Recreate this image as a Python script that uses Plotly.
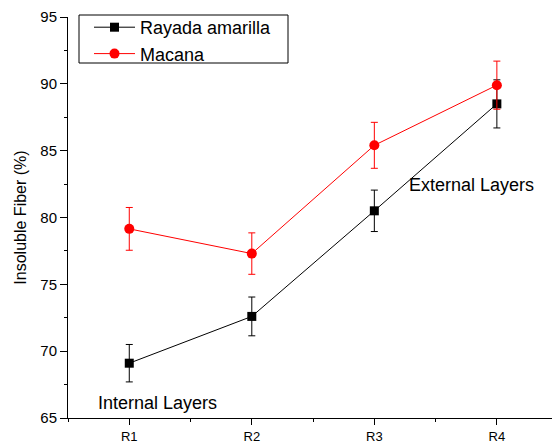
import plotly.graph_objects as go

categories = ["R1", "R2", "R3", "R4"]
x_pos = [1, 2, 3, 4]
rayada = [69.1, 72.6, 80.5, 88.5]
rayada_err = [1.4, 1.45, 1.55, 1.8]
macana = [79.15, 77.3, 85.4, 89.9]
macana_err = [1.6, 1.55, 1.72, 1.8]

FONT = "Arial, Liberation Sans, sans-serif"

fig = go.Figure()
fig.add_trace(go.Scatter(
    x=x_pos, y=rayada, name="Rayada amarilla", mode="lines+markers",
    line=dict(color="black", width=1),
    marker=dict(symbol="square", size=9, color="black"),
    error_y=dict(type="data", array=rayada_err, visible=True, color="black", thickness=1, width=3.5),
    cliponaxis=False,
))
fig.add_trace(go.Scatter(
    x=x_pos, y=macana, name="Macana", mode="lines+markers",
    line=dict(color="red", width=1),
    marker=dict(symbol="circle", size=10, color="red"),
    error_y=dict(type="data", array=macana_err, visible=True, color="red", thickness=1, width=3.5),
    cliponaxis=False,
))

fig.add_annotation(x=1.23, y=66.1, text="Internal Layers", showarrow=False,
                   font=dict(family=FONT, size=18, color="black"))
fig.add_annotation(x=3.79, y=82.45, text="External Layers", showarrow=False,
                   font=dict(family=FONT, size=18, color="black"))

# legend frame (plot area: x 68..552 px, y 17..418 px)
fig.add_shape(type="rect", xref="paper", yref="paper",
              x0=(79 - 68) / 484, x1=(288 - 68) / 484,
              y0=(418 - 63) / 401, y1=(418 - 15) / 401,
              line=dict(color="black", width=1), fillcolor="rgba(0,0,0,0)")

fig.update_layout(
    width=552, height=443,
    margin=dict(l=68, r=0, t=17, b=25, autoexpand=False),
    paper_bgcolor="white", plot_bgcolor="white",
    font=dict(family=FONT, color="black"),
    showlegend=True,
    legend=dict(x=(89 - 68) / 484, y=(418 - 9) / 401, xanchor="left", yanchor="top",
                borderwidth=0, bgcolor="rgba(0,0,0,0)",
                font=dict(family=FONT, size=18, color="black"),
                tracegroupgap=0, itemwidth=41),
    xaxis=dict(
        range=[0.5, 4.45], tickmode="array", tickvals=x_pos, ticktext=categories,
        showgrid=False, zeroline=False, showline=True, linecolor="black", linewidth=1,
        ticks="outside", ticklen=6, tickcolor="black", tickwidth=1, automargin=False,
        tickfont=dict(family=FONT, size=13, color="black"),
        minor=dict(tickmode="array", tickvals=[0.5, 1.5, 2.5, 3.5], ticks="outside",
                   ticklen=3, tickcolor="black", tickwidth=1, showgrid=False),
    ),
    yaxis=dict(
        range=[65, 95], dtick=5, tick0=65, automargin=False,
        showgrid=False, zeroline=False, showline=True, linecolor="black", linewidth=1,
        ticks="outside", ticklen=7, tickcolor="black", tickwidth=1,
        tickfont=dict(family=FONT, size=15, color="black"),
        title=dict(text="Insoluble Fiber (%)", font=dict(family=FONT, size=16, color="black"), standoff=9),
        minor=dict(dtick=2.5, tick0=65, ticks="outside", ticklen=3, tickcolor="black",
                   tickwidth=1, showgrid=False),
    ),
)

fig.write_html("out.html", config={"displayModeBar": False},
               post_script="document.body.style.margin='0';")
